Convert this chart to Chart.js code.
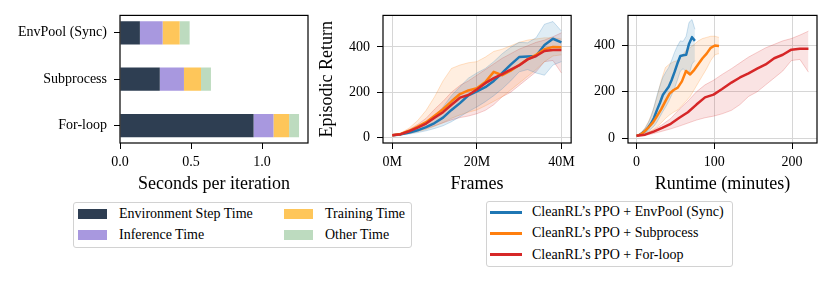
<!DOCTYPE html>
<html>
<head>
<meta charset="utf-8">
<script src="https://cdn.jsdelivr.net/npm/chart.js@4.4.0/dist/chart.umd.min.js"></script>
<style>
  html, body { margin: 0; padding: 0; background: #fff; }
  body {
    width: 831px; height: 282px; position: relative; overflow: hidden;
    font-family: 'Liberation Serif', 'Times New Roman', serif; font-size: 14px; color: #000;
  }
  canvas { position: absolute; top: 0; }
  .legend-box { position: absolute; border: 1px solid #d2d2d2; border-radius: 3px; background: #fff; box-sizing: border-box; }
  .legend-text { position: absolute; white-space: nowrap; line-height: 16px; height: 16px; }
  .legend-mark { position: absolute; }
</style>
</head>
<body>
<canvas id="timeChart" width="310" height="200" style="left:0"></canvas>
<canvas id="framesChart" width="270" height="200" style="left:310px"></canvas>
<canvas id="runtimeChart" width="251" height="200" style="left:580px"></canvas>

<script>
// ---- data: time breakdown per iteration ----
const methods = ['EnvPool (Sync)', 'Subprocess', 'For-loop'];
const stepTime = [0.14, 0.28, 0.94];
const inferenceTime = [0.16, 0.17, 0.14];
const trainingTime = [0.12, 0.12, 0.11];
const otherTime = [0.07, 0.07, 0.07];
const secondTicks = [0, 0.5, 1.0];

// ---- data: learning curves (frames in millions) ----
const frames = [0, 2, 4, 6, 8, 10, 12, 14, 16, 18, 20, 22, 24, 26, 28, 30, 32, 34, 36, 38, 40];

const envpoolMinutes = [0, 3.8, 7.5, 11.3, 15, 18.8, 22.5, 26.3, 30, 33.8, 37.5, 41.3, 45, 48.8, 52.5, 56.3, 60, 63.8, 67.5, 71.3, 75];
const envpoolReturn = [10, 14, 22, 32, 46, 64, 88, 122, 152, 186, 204, 222, 250, 285, 322, 355, 358, 360, 408, 436, 420];
const envpoolLow = [8, 11, 16, 22, 30, 40, 52, 70, 92, 115, 135, 158, 185, 215, 250, 290, 300, 285, 275, 320, 335];
const envpoolHigh = [12, 17, 30, 45, 66, 95, 135, 185, 225, 262, 285, 305, 335, 370, 398, 420, 418, 440, 500, 512, 470];

const subprocMinutes = [0, 5.3, 10.6, 15.9, 21.2, 26.5, 31.8, 37.1, 42.4, 47.7, 53, 58.3, 63.6, 68.9, 74.2, 79.5, 84.8, 90.1, 95.4, 100.7, 106];
const subprocReturn = [10, 16, 30, 48, 68, 96, 125, 160, 192, 208, 218, 245, 290, 275, 295, 320, 345, 365, 390, 400, 398];
const subprocLow = [8, 12, 18, 26, 36, 50, 66, 85, 100, 112, 122, 140, 160, 180, 210, 240, 270, 300, 335, 360, 365];
const subprocHigh = [12, 20, 42, 75, 120, 180, 250, 305, 320, 330, 335, 355, 380, 390, 405, 420, 430, 435, 440, 440, 435];

const forloopMinutes = [0, 11, 22, 33, 44, 55, 66, 77, 88, 99, 110, 122, 133, 144, 155, 166, 177, 188, 199, 210, 221];
const forloopReturn = [10, 15, 28, 44, 62, 88, 112, 145, 176, 188, 212, 240, 262, 280, 300, 318, 345, 360, 382, 386, 386];
const forloopLow = [8, 12, 20, 30, 40, 52, 65, 78, 88, 95, 105, 120, 145, 180, 200, 230, 260, 290, 335, 340, 285];
const forloopHigh = [12, 19, 36, 58, 85, 125, 160, 200, 230, 250, 275, 300, 325, 350, 370, 390, 405, 420, 430, 445, 462];

const frameTicks = [0, 20, 40];
const minuteTicks = [0, 100, 200];
const returnTicks = [0, 200, 400];

// ---- styling ----
Chart.defaults.font.family = "'Liberation Serif', 'Times New Roman', serif";
Chart.defaults.font.size = 14;
Chart.defaults.color = '#000';

const GRID = '#d6d6d6';

const segments = [
    { label: 'Environment Step Time', values: stepTime, color: '#2e3e52' },
    { label: 'Inference Time', values: inferenceTime, color: '#a898df' },
    { label: 'Training Time', values: trainingTime, color: '#fec65a' },
    { label: 'Other Time', values: otherTime, color: '#bddbbf' }
];

const runs = [
    { label: "CleanRL\u2019s PPO + EnvPool (Sync)", color: '#1f77b4', fillColor: 'rgba(31,119,180,0.14)', edge: 'rgba(31,119,180,0.22)',
      minutes: envpoolMinutes, mean: envpoolReturn, low: envpoolLow, high: envpoolHigh },
    { label: "CleanRL\u2019s PPO + Subprocess", color: '#ff7f0e', fillColor: 'rgba(255,127,14,0.13)', edge: 'rgba(255,127,14,0.22)',
      minutes: subprocMinutes, mean: subprocReturn, low: subprocLow, high: subprocHigh },
    { label: "CleanRL\u2019s PPO + For-loop", color: '#d62728', fillColor: 'rgba(214,39,40,0.13)', edge: 'rgba(214,39,40,0.22)',
      minutes: forloopMinutes, mean: forloopReturn, low: forloopLow, high: forloopHigh }
];

// draws the full box around the plot area, like matplotlib spines
const framePlugin = {
    id: 'frame',
    afterDatasetsDraw(chart) {
        const a = chart.chartArea;
        const ctx = chart.ctx;
        ctx.save();
        ctx.strokeStyle = '#000';
        ctx.lineWidth = 1.2;
        ctx.strokeRect(a.left, a.top, a.right - a.left, a.bottom - a.top);
        ctx.restore();
    }
};

function fixedTicks(list) {
    return function(scale) {
        scale.ticks = list.map(function(v) { return { value: v }; });
    };
}

function points(xs, ys) {
    return xs.map(function(x, i) { return { x: x, y: ys[i] }; });
}

// ---- stacked horizontal bars ----
new Chart(document.getElementById('timeChart'), {
    type: 'bar',
    data: {
        datasets: segments.map(function(s) {
            return {
                label: s.label,
                data: s.values.map(function(v, i) { return { x: v, y: i }; }),
                backgroundColor: s.color,
                borderWidth: 0,
                barPercentage: 0.5,
                categoryPercentage: 1
            };
        })
    },
    options: {
        indexAxis: 'y',
        responsive: false,
        animation: false,
        devicePixelRatio: 1,
        layout: { padding: { left: 0, top: 13, right: 2, bottom: 0 }, autoPadding: false },
        plugins: { legend: { display: false }, tooltip: { enabled: false } },
        scales: {
            x: {
                type: 'linear', stacked: true, min: 0, max: 1.323,
                afterBuildTicks: fixedTicks(secondTicks),
                afterFit: function(s) { s.height = 57; },
                grid: { drawOnChartArea: false, tickLength: 6, tickColor: '#000', tickWidth: 1 },
                border: { display: false },
                ticks: { padding: 5, maxRotation: 0, callback: function(v) { return v.toFixed(1); } },
                title: { display: true, text: 'Seconds per iteration', font: { size: 18 }, padding: { top: 0, bottom: 5 } }
            },
            y: {
                type: 'linear', stacked: true, reverse: true, min: -0.375, max: 2.375,
                offset: false,
                afterBuildTicks: fixedTicks(methods.map(function(m, i) { return i; })),
                afterFit: function(s) { s.width = 120; },
                grid: { offset: false, drawOnChartArea: false, tickLength: 6, tickColor: '#000', tickWidth: 1 },
                border: { display: false },
                ticks: { padding: 7, callback: function(v) { return methods[v]; } }
            }
        }
    },
    plugins: [framePlugin]
});

// ---- learning curves ----
function curveDatasets(xKey) {
    const sets = [];
    runs.forEach(function(r, k) {
        const xs = xKey === 'frames' ? frames : r.minutes;
        sets.push({
            data: points(xs, r.low), borderColor: r.edge, borderWidth: 1,
            pointRadius: 0, fill: false, order: 10 + k
        });
        sets.push({
            data: points(xs, r.high), borderColor: r.edge, borderWidth: 1,
            backgroundColor: r.fillColor, pointRadius: 0, fill: '-1', order: 10 + k
        });
    });
    runs.forEach(function(r, k) {
        const xs = xKey === 'frames' ? frames : r.minutes;
        sets.push({
            label: r.label,
            data: points(xs, r.mean), borderColor: r.color, borderWidth: 2.5,
            pointRadius: 0, fill: false, borderJoinStyle: 'round', order: 2 - k
        });
    });
    return sets;
}

function curveOptions(cfg) {
    const gridOpts = { color: GRID, lineWidth: 1, tickLength: 6, tickColor: '#000', tickWidth: 1 };
    const yScale = {
        type: 'linear', min: cfg.yMin, max: cfg.yMax,
        afterBuildTicks: fixedTicks(returnTicks),
        afterFit: function(s) { s.width = cfg.yWidth; },
        grid: gridOpts,
        border: { display: false },
        ticks: { padding: 7 }
    };
    if (cfg.yTitle) {
        yScale.title = { display: true, text: cfg.yTitle, font: { size: 18 }, padding: { top: 6, bottom: 0 } };
    }
    return {
        responsive: false,
        animation: false,
        devicePixelRatio: 1,
        layout: { padding: { left: 0, top: 13, right: cfg.padRight, bottom: 0 }, autoPadding: false },
        plugins: { legend: { display: false }, tooltip: { enabled: false } },
        elements: { line: { tension: 0 } },
        scales: {
            x: {
                type: 'linear', min: cfg.xMin, max: cfg.xMax,
                afterBuildTicks: fixedTicks(cfg.xTicks),
                afterFit: function(s) { s.height = 57; },
                grid: gridOpts,
                border: { display: false },
                ticks: { padding: 5, maxRotation: 0, callback: cfg.xFormat },
                title: { display: true, text: cfg.xTitle, font: { size: 18 }, padding: { top: 0, bottom: 5 } }
            },
            y: yScale
        }
    };
}

new Chart(document.getElementById('framesChart'), {
    type: 'line',
    data: { datasets: curveDatasets('frames') },
    options: curveOptions({
        xMin: -2.2, xMax: 42.3, xTicks: frameTicks, xTitle: 'Frames',
        xFormat: function(v) { return v + 'M'; },
        yMin: -24, yMax: 539, yWidth: 73, yTitle: 'Episodic Return', padRight: 7
    }),
    plugins: [framePlugin]
});

new Chart(document.getElementById('runtimeChart'), {
    type: 'line',
    data: { datasets: curveDatasets('minutes') },
    options: curveOptions({
        xMin: -11, xMax: 232, xTicks: minuteTicks, xTitle: 'Runtime (minutes)',
        xFormat: function(v) { return String(v); },
        yMin: -21, yMax: 530, yWidth: 48, yTitle: null, padRight: 14
    }),
    plugins: [framePlugin]
});

// ---- legends (html text) ----
function addEl(cls, css, text) {
    const el = document.createElement('div');
    el.className = cls;
    Object.assign(el.style, css);
    if (text) el.textContent = text;
    document.body.appendChild(el);
    return el;
}

addEl('legend-box', { left: '73px', top: '202px', width: '339px', height: '46px' });
const barCols = [78, 78, 284, 284];
const barRows = [209, 229.5, 209, 229.5];
segments.forEach(function(s, i) {
    addEl('legend-mark', { left: barCols[i] + 'px', top: barRows[i] + 'px', width: '29px', height: '10px', background: s.color });
    addEl('legend-text', { left: (barCols[i] + 41) + 'px', top: (barRows[i] - 3) + 'px' }, s.label);
});

addEl('legend-box', { left: '486px', top: '201px', width: '247px', height: '66px' });
const runRows = [212.3, 233.4, 254.5];
runs.forEach(function(r, i) {
    addEl('legend-mark', { left: '490px', top: (runRows[i] - 1.25) + 'px', width: '32px', height: '2.5px', background: r.color });
    addEl('legend-text', { left: '532px', top: (runRows[i] - 8) + 'px' }, r.label);
});
</script>
</body>
</html>
